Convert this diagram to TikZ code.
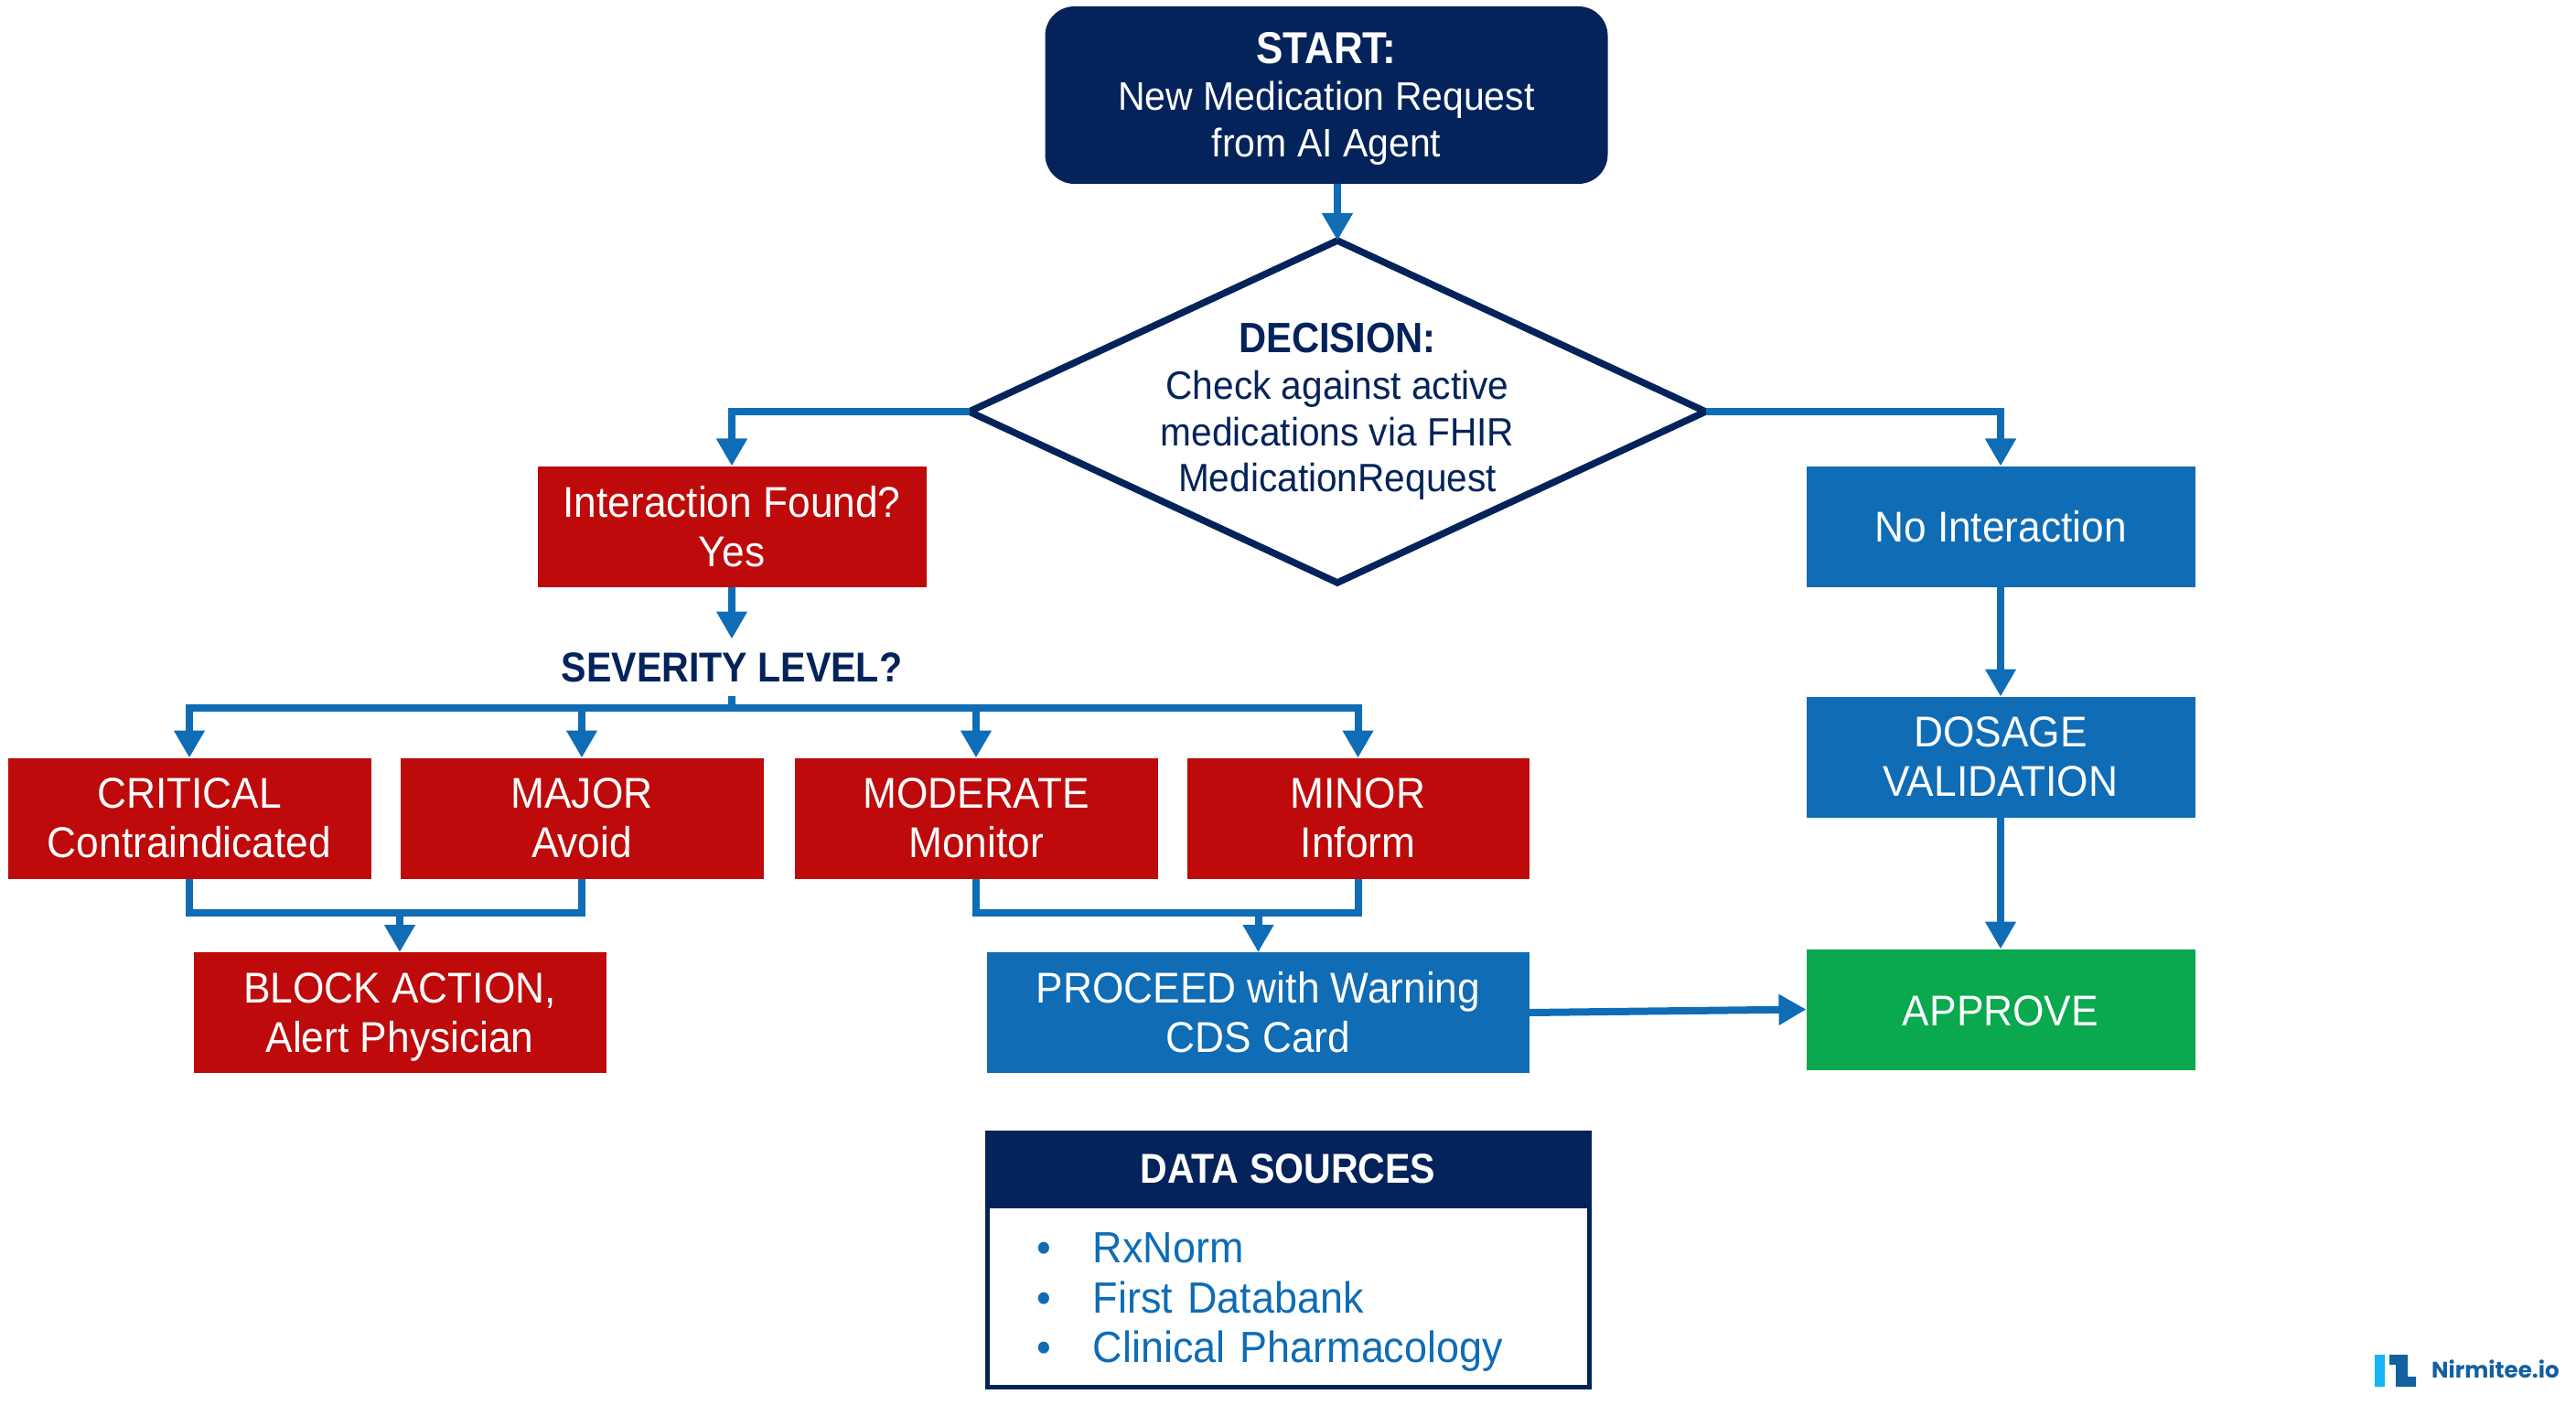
\documentclass[tikz,border=0pt]{standalone}
\usepackage{fontspec}
\setmainfont{Liberation Sans}[FakeStretch=0.94, BoldFeatures={FakeStretch=0.90}]
\newfontfamily\logofont{Poppins}
\usetikzlibrary{shapes.geometric, arrows.meta, positioning}
\definecolor{flownavy}{HTML}{03235A}
\definecolor{flowblue}{HTML}{0F6CB5}
\definecolor{flowred}{HTML}{BE0A0A}
\definecolor{flowgreen}{HTML}{0AA84F}
\definecolor{logolight}{HTML}{14B4F5}
\definecolor{logodark}{HTML}{13609F}
\tikzset{
    base/.style={align=center, inner sep=0pt, outer sep=0pt, text=white, font=\fontsize{13.4}{15.3}\selectfont},
    startblock/.style={base, rectangle, rounded corners=0.32cm, fill=flownavy, minimum width=6.15cm, minimum height=1.94cm, font=\fontsize{12.4}{14.4}\selectfont},
    decision/.style={base, diamond, draw=flownavy, line width=0.075cm, fill=white, text=flownavy, aspect=2.15, minimum width=8.05cm, minimum height=3.74cm, inner sep=-6pt, font=\fontsize{12.3}{14.4}\selectfont},
    redblock/.style={base, rectangle, fill=flowred, minimum height=1.32cm},
    blueblock/.style={base, rectangle, fill=flowblue, minimum height=1.32cm, minimum width=4.25cm},
    heading/.style={base, text=flownavy, font=\fontsize{13}{15.3}\selectfont\bfseries, minimum height=0.62cm},
    sourcehead/.style={base, rectangle, draw=flownavy, fill=flownavy, line width=0.05cm, minimum width=6.58cm, minimum height=0.80cm, font=\fontsize{13}{15.3}\selectfont\bfseries},
    sourcebody/.style={base, rectangle, draw=flownavy, line width=0.05cm, text=flowblue, align=left, text width=5.5cm, inner xsep=0.54cm, minimum height=1.98cm, font=\fontsize{13.6}{15.6}\selectfont},
    wire/.style={draw=flowblue, line width=0.08cm},
    line/.style={wire, -{Triangle[length=0.3cm, width=0.32cm]}}
}

\begin{document}
\begin{tikzpicture}
    \useasboundingbox (0,0) rectangle (28.16,-15.36);

    \node [startblock] (START) at (14.50,-1.04) {\rule{0pt}{0.42cm}\fontsize{13.9}{14.4}\selectfont\textbf{START:}\\New Medication Request\\from AI Agent};
    \node [decision] (DEC) at (14.62,-4.50) {\fontsize{13.2}{14.4}\selectfont\textbf{DECISION:}\\Check against active\\medications via FHIR\\MedicationRequest};
    \node [redblock, minimum width=4.25cm] (INT) at (8.00,-5.755) {Interaction Found?\\Yes};
    \node [heading, below=0.57cm of INT] (SEV) {SEVERITY LEVEL?};
    \node [blueblock] (NOI) at (21.87,-5.755) {No Interaction};
    \node [blueblock, below=1.20cm of NOI] (DOS) {DOSAGE\\VALIDATION};
    \node [blueblock, fill=flowgreen, below=1.44cm of DOS] (APP) {\rule{0pt}{0.37cm}APPROVE};

    \node [redblock, minimum width=3.97cm] (CRIT) at (2.07,-8.945) {CRITICAL\\Contraindicated};
    \node [redblock, minimum width=3.97cm, right=0.32cm of CRIT] (MAJ) {MAJOR\\Avoid};
    \node [redblock, minimum width=3.97cm, right=0.34cm of MAJ] (MOD) {MODERATE\\Monitor};
    \node [redblock, minimum width=3.74cm, right=0.32cm of MOD] (MIN) {MINOR\\Inform};

    \node [redblock, minimum width=4.51cm] (BLOCK) at (4.37,-11.07) {\rule{0pt}{0.43cm}BLOCK ACTION,\\Alert Physician};
    \node [blueblock, minimum width=5.93cm] (PROC) at (13.755,-11.07) {PROCEED with Warning\\CDS Card};

    \node [sourcehead] (DSH) at (14.08,-12.78) {DATA SOURCES};
    \node [sourcebody, below=0cm of DSH] (DSB) {\rule{0pt}{0.46cm}\makebox[0.62cm][l]{\textbullet}RxNorm\\\makebox[0.62cm][l]{\textbullet}First Databank\\\makebox[0.62cm][l]{\textbullet}Clinical Pharmacology};

    \coordinate (sevbus) at (8.00,-7.74);
    \coordinate (blockjoin) at (4.37,-9.98);
    \coordinate (procjoin) at (13.755,-9.98);

    \draw [line] (START.south -| DEC.north) -- (DEC.north);
    \draw [line] (DEC.west) -| (INT.north);
    \draw [line] (DEC.east) -| (NOI.north);
    \draw [line] (INT.south) -- (SEV.north);
    \draw [line] (NOI.south) -- (DOS.north);
    \draw [line] (DOS.south) -- (APP.north);

    \draw [wire] (SEV.south) -- (sevbus);
    \draw [line] (sevbus) -| (CRIT.north);
    \draw [line] (sevbus) -| (MAJ.north);
    \draw [line] (sevbus) -| (MOD.north);
    \draw [line] (sevbus) -| (MIN.north);

    \draw [wire] (CRIT.south) |- (blockjoin) -| (MAJ.south);
    \draw [line] (blockjoin) -- (BLOCK.north);
    \draw [wire] (MOD.south) |- (procjoin) -| (MIN.south);
    \draw [line] (procjoin) -- (PROC.north);
    \draw [line] (PROC.east) -- (APP.west);

    \fill [logolight] (25.96,-14.81) rectangle (26.07,-15.16);
    \fill [logodark] (26.12,-14.81) -- (26.32,-14.81) -- (26.32,-15.05) -- (26.41,-15.05) -- (26.41,-15.16) -- (26.19,-15.16) -- (26.19,-14.92) -- (26.12,-14.92) -- cycle;
    \node [base, anchor=west, text=logodark, font=\logofont\fontsize{7}{9}\selectfont\bfseries] (LOGO) at (26.58,-14.97) {Nirmitee.io};
\end{tikzpicture}
\end{document}
